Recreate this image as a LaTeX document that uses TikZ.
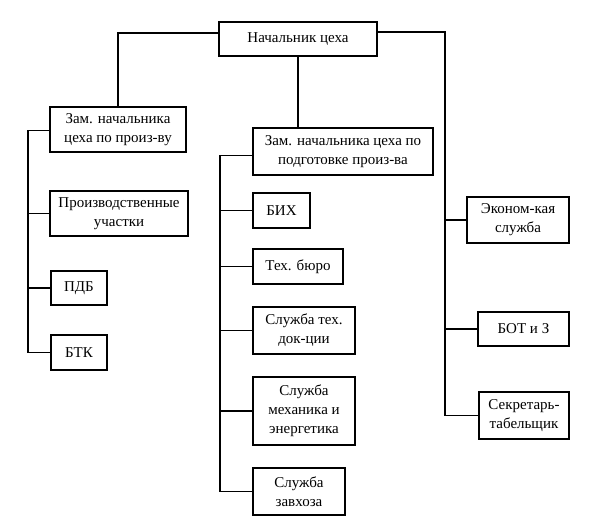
\documentclass[tikz,border=0pt]{standalone}
\usepackage{fontspec}
\setmainfont{Liberation Serif}
\begin{document}
\begin{tikzpicture}[x=1pt,y=-1pt,
  line width=1.4pt,
  box/.style={draw, inner sep=0pt, align=center, font=\fontsize{15}{19}\selectfont},
  link/.style={line width=1.4pt}]
\useasboundingbox (0,0) rectangle (606,532);
% boxes: center, width, height
\node[box, minimum width=158, minimum height=34] (boss) at (298,39) {Начальник цеха};
\node[box, minimum width=136, minimum height=45] (zam1) at (118,129.5) {Зам. начальника\\цеха по произ-ву};
\node[box, minimum width=138, minimum height=45] (prod) at (119,213.5) {Производственные\\участки};
\node[box, minimum width=56, minimum height=34] (pdb) at (79,288) {ПДБ};
\node[box, minimum width=56, minimum height=35] (btk) at (79,352.5) {БТК};
\node[box, minimum width=180, minimum height=47] (zam2) at (343,151.5) {Зам. начальника цеха по\\подготовке произ-ва};
\node[box, minimum width=57, minimum height=35] (bih) at (281.5,210.5) {БИХ};
\node[box, minimum width=90, minimum height=35] (teh) at (298,266.5) {Тех. бюро};
\node[box, minimum width=102, minimum height=47] (doc) at (304,330.5) {Служба тех.\\док-ции};
\node[box, minimum width=102, minimum height=68] (meh) at (304,411) {Служба\\механика и\\энергетика};
\node[box, minimum width=92, minimum height=47] (zav) at (299,491.5) {Служба\\завхоза};
\node[box, minimum width=102, minimum height=46] (eco) at (518,220) {Эконом-кая\\служба};
\node[box, minimum width=91, minimum height=34] (bot) at (523.5,329) {БОТ и З};
\node[box, minimum width=90, minimum height=47] (sec) at (524,415.5) {Секретарь-\\табельщик};
% bus coordinates
\coordinate (lbus) at (28,0);
\coordinate (cbus) at (220,0);
\coordinate (rbus) at (445,0);
% connectors
\draw[link] ([yshift=6pt]boss.west) -| (zam1.north);
\draw[link] (boss.south) -- (boss.south |- zam2.north);
\draw[link] ([yshift=7pt]boss.east) -| (rbus |- sec.west) -- (sec.west);
\draw[link] (rbus |- eco.west) -- (eco.west);
\draw[link] (rbus |- bot.west) -- (bot.west);
\draw[link] ([yshift=-1pt]zam1.west) -| (lbus |- btk.west) -- (btk.west);
\draw[link] (lbus |- prod.west) -- (prod.west);
\draw[link] (lbus |- pdb.west) -- (pdb.west);
\draw[link] ([yshift=-4pt]zam2.west) -| (cbus |- zav.west) -- (zav.west);
\draw[link] (cbus |- bih.west) -- (bih.west);
\draw[link] (cbus |- teh.west) -- (teh.west);
\draw[link] (cbus |- doc.west) -- (doc.west);
\draw[link] (cbus |- meh.west) -- (meh.west);
\end{tikzpicture}
\end{document}
